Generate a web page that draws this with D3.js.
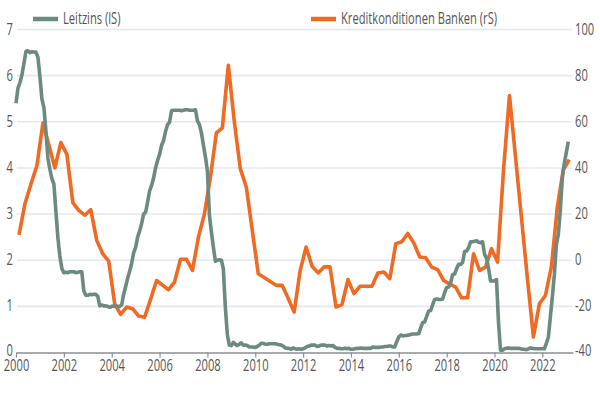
<!DOCTYPE html>
<html>
<head>
<meta charset="utf-8">
<script src="https://cdn.jsdelivr.net/npm/d3@7"></script>
<style>
  html, body { margin: 0; padding: 0; background: #fff; }
  svg { display: block; }
</style>
</head>
<body>
<svg id="chart" width="600" height="394"></svg>
<script>
// ---------- DATA ----------
const startYear = 2000;
// Leitzins (lS), monthly, Jan 2000 - Feb 2023
const leitzins = [
  5.40,5.73,5.85,6.02,6.27,6.53,6.54,6.50,6.52,6.51,6.51,6.40,
  5.98,5.49,5.31,4.80,4.21,3.97,3.77,3.65,3.07,2.49,2.09,1.82,
  1.73,1.74,1.73,1.75,1.75,1.75,1.73,1.74,1.75,1.75,1.34,1.24,
  1.24,1.26,1.25,1.26,1.26,1.22,1.01,1.03,1.01,1.01,1.00,0.98,
  1.00,1.01,1.00,1.00,1.00,1.03,1.26,1.43,1.61,1.76,1.93,2.16,
  2.28,2.50,2.63,2.79,3.00,3.04,3.26,3.50,3.62,3.78,4.00,4.16,
  4.29,4.49,4.59,4.79,4.94,4.99,5.24,5.25,5.25,5.25,5.25,5.24,
  5.25,5.26,5.26,5.25,5.25,5.25,5.26,5.02,4.94,4.76,4.49,4.24,
  3.94,2.98,2.61,2.28,1.98,2.00,2.01,2.00,1.81,0.97,0.39,0.16,
  0.15,0.22,0.18,0.15,0.18,0.21,0.16,0.16,0.15,0.12,0.12,0.12,
  0.11,0.13,0.16,0.20,0.20,0.18,0.18,0.19,0.19,0.19,0.19,0.18,
  0.17,0.16,0.14,0.10,0.09,0.09,0.07,0.10,0.08,0.07,0.08,0.07,
  0.08,0.10,0.13,0.14,0.16,0.16,0.16,0.13,0.14,0.16,0.16,0.16,
  0.14,0.15,0.14,0.15,0.11,0.09,0.09,0.08,0.08,0.09,0.08,0.09,
  0.07,0.07,0.08,0.09,0.09,0.10,0.09,0.09,0.09,0.09,0.09,0.12,
  0.11,0.11,0.11,0.12,0.12,0.13,0.13,0.14,0.14,0.12,0.12,0.24,
  0.34,0.38,0.36,0.37,0.37,0.38,0.39,0.40,0.40,0.40,0.41,0.54,
  0.65,0.66,0.79,0.90,0.91,1.04,1.15,1.16,1.15,1.15,1.16,1.30,
  1.41,1.42,1.51,1.69,1.70,1.82,1.91,1.91,1.95,2.19,2.20,2.27,
  2.40,2.40,2.41,2.42,2.39,2.38,2.40,2.13,2.04,1.83,1.55,1.55,
  1.55,1.58,0.65,0.05,0.05,0.08,0.09,0.10,0.09,0.09,0.09,0.09,
  0.09,0.08,0.07,0.07,0.06,0.08,0.10,0.09,0.08,0.08,0.08,0.08,
  0.08,0.08,0.20,0.33,0.77,1.21,1.68,2.33,2.56,3.08,3.78,4.10,
  4.33,4.57
];
// Kreditkonditionen Banken (rS), quarterly, Q1 2000 - Q1 2023
const kredit = [
  11,24.5,33,41,
  59.5,50,40,51,
  46,25,21.6,19.5,
  21.9,8.6,2.8,-0.4,
  -18.9,-23.5,-20.3,-21,
  -24.2,-24.7,-17,-8.8,
  -10.8,-12.8,-9.5,0.4,
  0.4,-4.4,10,20,
  36,55.2,57.4,84.5,
  60,39.7,31.7,13,
  -5.9,-7.5,-9.2,-10.9,
  -10.9,-16.5,-22.5,-4.6,
  5.7,-2.6,-5.5,-2.9,
  -2.9,-20.3,-19.2,-8.4,
  -14.5,-11.3,-11.3,-11.3,
  -5.5,-5.1,-8,7.2,
  8,11.6,7.5,1.4,
  1.1,-3,-4.1,-8.8,
  -10.3,-11.7,-16.3,-16.3,
  2.8,-4.4,-3,5,
  -0.8,38.9,71.4,45,
  18.6,-7.9,-33.3,-18.9,
  -15.3,-3,23,39.2,
  43.6
];
const yearTicks = [2000,2002,2004,2006,2008,2010,2012,2014,2016,2018,2020,2022];
const leftTicks = [0,1,2,3,4,5,6,7];
const rightTicks = [-40,-20,0,20,40,60,80,100];
const seriesNames = ["Leitzins (lS)", "Kreditkonditionen Banken (rS)"];
const colors = ["#6b8a80", "#ef6a22"];

// ---------- CHART ----------
const svg = d3.select("#chart");
const x = d3.scaleLinear().domain([2000, 2023.28]).range([16, 573]);
const yL = d3.scaleLinear().domain([0, 7]).range([352.5, 29.5]);
const yR = d3.scaleLinear().domain([-40, 100]).range([352.5, 29.5]);

const fontFam = "'Open Sans', 'Noto Sans', sans-serif";
const sx = 0.72;
const textColor = "#555";

// gridlines
svg.append("g").selectAll("line").data(leftTicks.filter(d => d > 0)).join("line")
  .attr("x1", 17).attr("x2", 572)
  .attr("y1", d => yL(d)).attr("y2", d => yL(d))
  .attr("stroke", "#e4e7f0").attr("stroke-width", 1.6);

// bottom axis
const xAxis = d3.axisBottom(x).tickValues(yearTicks).tickFormat(d3.format("d"))
  .tickSizeInner(5).tickSizeOuter(0).tickPadding(3);
const gx = svg.append("g").attr("transform", `translate(0,${yL(0)})`).call(xAxis);
gx.select(".domain").attr("stroke", "#8a8f96").attr("stroke-width", 1.4);
gx.selectAll(".tick line").attr("stroke", "#8a8f96").attr("stroke-width", 1.2);
gx.selectAll(".tick text")
  .attr("fill", textColor).attr("font-size", 15.5).attr("font-family", fontFam)
  .attr("transform", `scale(${sx},1)`);

// left labels
svg.append("g").selectAll("text").data(leftTicks).join("text")
  .attr("transform", d => `translate(13,${yL(d) + (d === 0 ? 3.5 : 5)}) scale(${sx},1)`)
  .attr("text-anchor", "end")
  .attr("fill", textColor).attr("font-size", 15.5).attr("font-family", fontFam)
  .text(d => d);

// right labels
svg.append("g").selectAll("text").data(rightTicks).join("text")
  .attr("transform", d => `translate(575,${yR(d) + (d === -40 ? 3.5 : 5)}) scale(${sx},1)`)
  .attr("text-anchor", "start")
  .attr("fill", textColor).attr("font-size", 15.5).attr("font-family", fontFam)
  .text(d => String(d));

// lines
const kData = kredit.map((v, i) => ({ t: startYear + (i + 0.5) / 4, v }));
const lData = leitzins.map((v, i) => ({ t: startYear + i / 12, v }));

svg.append("path").datum(kData)
  .attr("fill", "none").attr("stroke", colors[1]).attr("stroke-width", 3.6)
  .attr("stroke-linejoin", "round").attr("stroke-linecap", "butt")
  .attr("d", d3.line().x(d => x(d.t)).y(d => yR(d.v)));

svg.append("path").datum(lData)
  .attr("fill", "none").attr("stroke", colors[0]).attr("stroke-width", 3.6)
  .attr("stroke-linejoin", "round").attr("stroke-linecap", "butt")
  .attr("d", d3.line().x(d => x(d.t)).y(d => yL(d.v)));

// legend
const legendPos = [{ x: 33, y: 19 }, { x: 311, y: 19 }];
const lg = svg.append("g").selectAll("g").data(seriesNames).join("g")
  .attr("transform", (d, i) => `translate(${legendPos[i].x},${legendPos[i].y})`);
lg.append("line").attr("x1", 0).attr("x2", 25).attr("y1", 0).attr("y2", 0)
  .attr("stroke", (d, i) => colors[i]).attr("stroke-width", 4.5);
lg.append("text")
  .attr("transform", `translate(30,5) scale(${sx},1)`)
  .attr("fill", textColor).attr("font-size", 15.5).attr("font-family", fontFam)
  .text(d => d);
</script>
</body>
</html>
